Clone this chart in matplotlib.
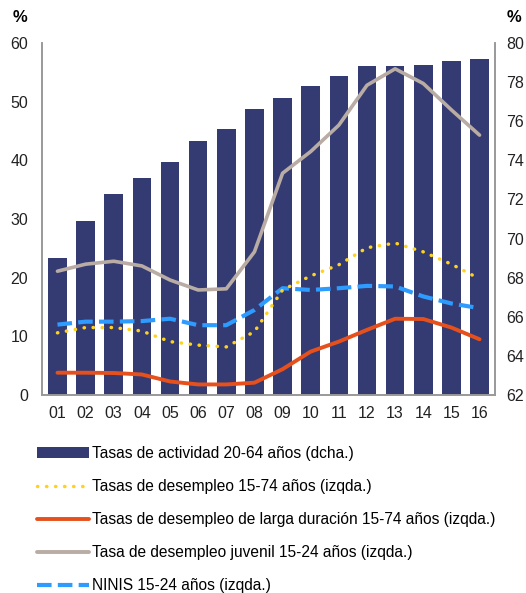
import numpy as np
import matplotlib.pyplot as plt
from matplotlib.lines import Line2D
from matplotlib.patches import Patch

plt.rcParams['font.family'] = ['Liberation Sans', 'DejaVu Sans']

# ---- data ----
years = ['01', '02', '03', '04', '05', '06', '07', '08',
         '09', '10', '11', '12', '13', '14', '15', '16']
actividad = [69.0, 70.9, 72.3, 73.1, 73.9, 75.0, 75.6, 76.6,
             77.2, 77.8, 78.3, 78.8, 78.8, 78.9, 79.1, 79.2]
desempleo = [10.6, 11.5, 11.5, 10.9, 9.1, 8.5, 8.2, 10.8,
             17.9, 20.3, 22.2, 25.1, 25.9, 24.4, 22.3, 19.8]
larga = [3.8, 3.8, 3.75, 3.5, 2.3, 1.8, 1.8, 2.1,
         4.4, 7.4, 9.1, 11.1, 13.0, 12.95, 11.5, 9.5]
juvenil = [21.1, 22.3, 22.8, 22.0, 19.6, 17.9, 18.1, 24.4,
           37.8, 41.5, 46.0, 52.8, 55.6, 53.1, 48.6, 44.3]
ninis = [12.0, 12.5, 12.5, 12.6, 13.0, 11.9, 11.9, 14.5,
         18.2, 17.9, 18.2, 18.6, 18.5, 16.8, 15.6, 14.8]

labels = ['Tasas de actividad 20-64 años (dcha.)',
          'Tasas de desempleo 15-74 años (izqda.)',
          'Tasas de desempleo de larga duración 15-74 años (izqda.)',
          'Tasa de desempleo juvenil 15-24 años (izqda.)',
          'NINIS 15-24 años (izqda.)']

c_bar = '#343b72'
c_yel = '#ffd21f'
c_red = '#e6501c'
c_gry = '#b8aca4'
c_blu = '#2e9bff'
c_spine = '#999999'

x = np.arange(len(years))

fig = plt.figure(figsize=(5.26, 5.93), dpi=100)
ax = fig.add_axes([42 / 526, 1 - 395 / 593, 453 / 526, 352 / 593])
ax2 = ax.twinx()

# bars on right axis, drawn behind lines
ax2.bar(x, actividad, width=0.66, bottom=0, color=c_bar, zorder=1)
ax2.set_ylim(62, 80)
ax2.set_yticks(np.arange(62, 81, 2))

ax.set_zorder(ax2.get_zorder() + 1)
ax.patch.set_visible(False)

ax.plot(x, juvenil, color=c_gry, lw=2.6, solid_capstyle='round')
ax.plot(x, ninis, color=c_blu, lw=3, dashes=(3.5, 1.5))
ax.plot(x, desempleo, color=c_yel, lw=2.5, linestyle=(0, (0.1, 2.5)),
        dash_capstyle='round')
ax.plot(x, larga, color=c_red, lw=2.8, solid_capstyle='round')

ax.set_ylim(0, 60)
ax.set_yticks(np.arange(0, 61, 10))
ax.set_xlim(-0.55, len(years) - 0.45)
ax.set_xticks(x)
ax.set_xticklabels(years)

for a in (ax, ax2):
    a.tick_params(length=0, labelsize=11.5, colors='#222222')
    a.spines['top'].set_visible(False)
    for s in ('left', 'right', 'bottom'):
        a.spines[s].set_color(c_spine)
        a.spines[s].set_linewidth(1.2)
ax.tick_params(axis='y', pad=10)
ax2.tick_params(axis='y', pad=8)
ax.tick_params(axis='x', pad=8)

fig.text(20 / 526, 1 - 18 / 593, '%', fontsize=12, fontweight='bold',
         ha='center', va='center')
fig.text(514 / 526, 1 - 18 / 593, '%', fontsize=12, fontweight='bold',
         ha='center', va='center')

handles = [
    Patch(facecolor=c_bar),
    Line2D([], [], color=c_yel, lw=2.5, linestyle=(0, (0.1, 2.5)),
           dash_capstyle='round'),
    Line2D([], [], color=c_red, lw=2.8, solid_capstyle='round'),
    Line2D([], [], color=c_gry, lw=2.8, solid_capstyle='round'),
    Line2D([], [], color=c_blu, lw=3, dashes=(3.5, 1.5)),
]
fig.legend(handles, labels, loc='upper left',
           bbox_to_anchor=(31 / 526, 1 - 440 / 593),
           frameon=False, fontsize=11.2, handlelength=3.3,
           handletextpad=0.22, labelspacing=1.16, borderaxespad=0)

fig.savefig('out.png', dpi=100)
